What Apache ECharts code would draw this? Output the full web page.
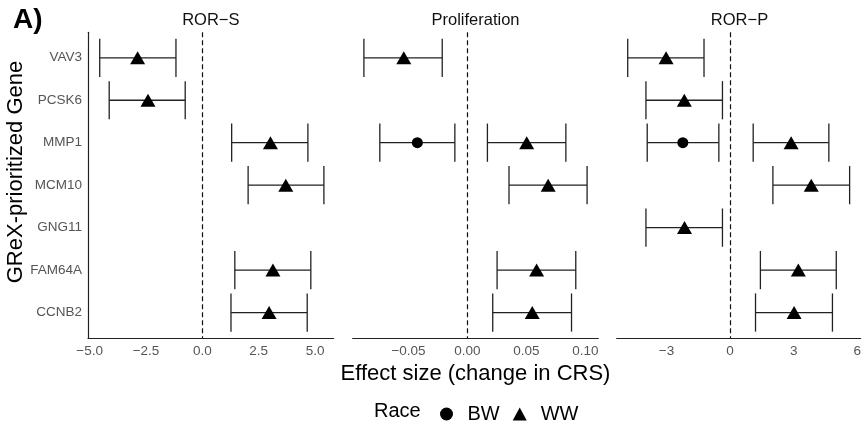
<!DOCTYPE html>
<html>
<head>
<meta charset="utf-8">
<script src="https://cdn.jsdelivr.net/npm/echarts@6/dist/echarts.min.js"></script>
<style>html,body{margin:0;padding:0;background:#fff}#c{width:864px;height:422px}</style>
</head>
<body>
<div id="c"></div>
<script>
// Category order (top to bottom)
const genes = ['VAV3', 'PCSK6', 'MMP1', 'MCM10', 'GNG11', 'FAM64A', 'CCNB2'];
const races = ['BW', 'WW'];
const panelTitles = ['ROR\u2212S', 'Proliferation', 'ROR\u2212P'];

// ROR-S panel
const rorS_gene = ['VAV3', 'PCSK6', 'MMP1', 'MCM10', 'FAM64A', 'CCNB2'];
const rorS_race = ['WW', 'WW', 'WW', 'WW', 'WW', 'WW'];
const rorS_est  = [-2.87, -2.41, 3.02, 3.70, 3.13, 2.96];
const rorS_low  = [-4.55, -4.13, 1.30, 2.03, 1.44, 1.27];
const rorS_high = [-1.17, -0.76, 4.68, 5.39, 4.81, 4.65];

// Proliferation panel
const prolif_gene = ['VAV3', 'MMP1', 'MMP1', 'MCM10', 'FAM64A', 'CCNB2'];
const prolif_race = ['WW', 'BW', 'WW', 'WW', 'WW', 'WW'];
const prolif_est  = [-0.0540, -0.0425, 0.0502, 0.0684, 0.0586, 0.0549];
const prolif_low  = [-0.0878, -0.0743, 0.0169, 0.0352, 0.0251, 0.0214];
const prolif_high = [-0.0214, -0.0107, 0.0834, 0.1014, 0.0918, 0.0882];

// ROR-P panel
const rorP_gene = ['VAV3', 'PCSK6', 'MMP1', 'MMP1', 'MCM10', 'GNG11', 'FAM64A', 'CCNB2'];
const rorP_race = ['WW', 'WW', 'BW', 'WW', 'WW', 'WW', 'WW', 'WW'];
const rorP_est  = [-3.02, -2.16, -2.23, 2.88, 3.83, -2.15, 3.22, 3.02];
const rorP_low  = [-4.83, -3.97, -3.91, 1.09, 2.02, -3.97, 1.43, 1.20];
const rorP_high = [-1.23, -0.36, -0.53, 4.66, 5.64, -0.36, 5.01, 4.83];

// Tick labels
const rorS_ticks = [-5, -2.5, 0, 2.5, 5];
const prolif_ticks = [-0.05, 0, 0.05, 0.10];
const rorP_ticks = [-3, 0, 3, 6];

const FONT = "'Liberation Sans', Arial, Helvetica, sans-serif";
const minus = s => s.replace('-', '\u2212');

const panels = [
  {gene: rorS_gene, race: rorS_race, est: rorS_est, low: rorS_low, high: rorS_high,
   ticks: rorS_ticks, dec: 1, min: -5.07, max: 5.82, left: 88},
  {gene: prolif_gene, race: prolif_race, est: prolif_est, low: prolif_low, high: prolif_high,
   ticks: prolif_ticks, dec: 2, min: -0.0973, max: 0.1109, left: 352.7},
  {gene: rorP_gene, race: rorP_race, est: rorP_est, low: rorP_low, high: rorP_high,
   ticks: rorP_ticks, dec: 0, min: -5.35, max: 6.16, left: 616.7}
];
const PW = 245.6, TOP = 32.3, H = 305.7;

const grids = [], xAxes = [], yAxes = [], series = [], graphics = [];
panels.forEach((p, i) => {
  grids.push({left: p.left, top: TOP, width: PW, height: H, containLabel: false});
  xAxes.push({
    type: 'value', gridIndex: i, min: p.min, max: p.max,
    axisLine: {show: true, onZero: false, lineStyle: {color: '#222', width: 1.2}},
    axisTick: {show: false},
    splitLine: {show: false},
    axisLabel: {
      customValues: p.ticks, color: '#555', fontSize: 13.5, fontFamily: FONT, margin: 6,
      formatter: v => minus(Number(v).toFixed(p.dec))
    },
    name: i === 1 ? 'Effect size (change in CRS)' : '',
    nameLocation: 'middle', nameGap: 23,
    nameTextStyle: {fontSize: 22, color: '#000', fontFamily: FONT}
  });
  yAxes.push({
    type: 'value', gridIndex: i, min: -0.6, max: 6.6, inverse: true,
    show: i === 0,
    axisLine: {show: true, onZero: false, lineStyle: {color: '#222', width: 1.2}},
    axisTick: {show: false},
    splitLine: {show: false},
    axisLabel: {
      customValues: genes.map((g, k) => k), color: '#555', fontSize: 13.5, fontFamily: FONT, margin: 6,
      formatter: v => genes[Math.round(v)]
    }
  });
  const ebData = p.gene.map((g, k) => [p.low[k], p.high[k], genes.indexOf(g)]);
  series.push({
    type: 'custom', xAxisIndex: i, yAxisIndex: i, data: ebData, silent: true, z: 2,
    encode: {x: [0, 1], y: 2},
    renderItem: (params, api) => {
      const y = api.value(2);
      const a = api.coord([api.value(0), y]);
      const b = api.coord([api.value(1), y]);
      const h = Math.abs(api.size([0, 0.9])[1]) / 2;
      const st = {stroke: '#222', lineWidth: 1.3};
      return {type: 'group', children: [
        {type: 'line', shape: {x1: a[0], y1: a[1], x2: b[0], y2: b[1]}, style: st},
        {type: 'line', shape: {x1: a[0], y1: a[1] - h, x2: a[0], y2: a[1] + h}, style: st},
        {type: 'line', shape: {x1: b[0], y1: b[1] - h, x2: b[0], y2: b[1] + h}, style: st}
      ]};
    },
    markLine: {
      silent: true, symbol: ['none', 'none'], label: {show: false},
      lineStyle: {type: [5, 3], color: '#111', width: 1.2},
      data: [{xAxis: 0}], animation: false
    }
  });
  races.forEach(r => {
    const d = [];
    p.gene.forEach((g, k) => { if (p.race[k] === r) d.push([p.est[k], genes.indexOf(g)]); });
    series.push({
      type: 'scatter', name: r, xAxisIndex: i, yAxisIndex: i, data: d, z: 3,
      symbol: r === 'BW' ? 'circle' : 'triangle',
      symbolSize: r === 'BW' ? 11 : [15, 13],
      itemStyle: {color: '#000', opacity: 1}
    });
  });
  graphics.push({type: 'text', x: p.left + PW / 2, y: 20,
    style: {text: panelTitles[i], fontSize: 16.5, fontFamily: FONT, fill: '#111', align: 'center', verticalAlign: 'middle'}});
});

graphics.push({type: 'text', x: 13, y: 20,
  style: {text: 'A)', fontSize: 28, fontWeight: 'bold', fontFamily: FONT, fill: '#000', align: 'left', verticalAlign: 'middle'}});
graphics.push({type: 'text', x: 16, y: 172, rotation: Math.PI / 2,
  style: {text: 'GReX-prioritized Gene', fontSize: 22, fontFamily: FONT, fill: '#000', align: 'center', verticalAlign: 'middle'}});
graphics.push({type: 'text', x: 374, y: 411.5,
  style: {text: 'Race', fontSize: 20, fontFamily: FONT, fill: '#000', align: 'left', verticalAlign: 'middle'}});

const chart = echarts.init(document.getElementById('c'), null, {renderer: 'canvas'});
chart.setOption({
  animation: false,
  backgroundColor: '#fff',
  grid: grids, xAxis: xAxes, yAxis: yAxes, series: series,
  legend: {
    data: races, left: 440, top: 404, padding: 0, itemWidth: 14, itemHeight: 13, itemGap: 13,
    textStyle: {fontSize: 20, fontFamily: FONT, color: '#000', padding: [0, 0, 0, 9]},
    selectedMode: false
  },
  graphic: graphics
});
</script>
</body>
</html>
